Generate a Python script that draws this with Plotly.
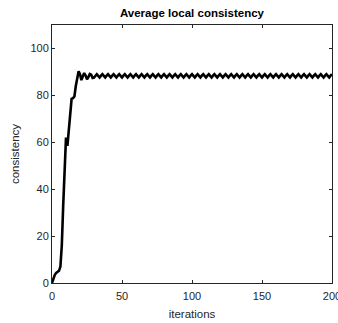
import plotly.graph_objects as go

# Average local consistency per iteration (first 31 iterations: warm-up phase)
warmup = [
    0.0, 2.0, 3.5, 4.3, 4.8, 5.2, 7.0, 16.0, 33.0, 50.0,
    62.0, 58.5, 65.0, 72.0, 78.5, 78.8, 79.5, 84.0, 88.0, 90.3,
    89.0, 86.5, 88.0, 89.5, 88.5, 86.8, 87.8, 89.1, 88.8, 87.4,
    87.6,
]

# Iterations 31..200: steady oscillating regime
steady = [
    88.4, 89.0, 88.3, 87.6, 88.4, 89.0, 88.3, 87.6,
    88.4, 89.0, 88.3, 87.6, 88.4, 89.0, 88.3, 87.6,
    88.4, 89.0, 88.3, 87.6, 88.4, 89.0, 88.3, 87.6,
    88.4, 89.0, 88.3, 87.6, 88.4, 89.0, 88.3, 87.6,
    88.4, 89.0, 88.3, 87.6, 88.4, 89.0, 88.3, 87.6,
    88.4, 89.0, 88.3, 87.6, 88.4, 89.0, 88.3, 87.6,
    88.4, 89.0, 88.3, 87.6, 88.4, 89.0, 88.3, 87.6,
    88.4, 89.0, 88.3, 87.6, 88.4, 89.0, 88.3, 87.6,
    88.4, 89.0, 88.3, 87.6, 88.4, 89.0, 88.3, 87.6,
    88.4, 89.0, 88.3, 87.6, 88.4, 89.0, 88.3, 87.6,
    88.4, 89.0, 88.3, 87.6, 88.4, 89.0, 88.3, 87.6,
    88.4, 89.0, 88.3, 87.6, 88.4, 89.0, 88.3, 87.6,
    88.4, 89.0, 88.3, 87.6, 88.4, 89.0, 88.3, 87.6,
    88.4, 89.0, 88.3, 87.6, 88.4, 89.0, 88.3, 87.6,
    88.4, 89.0, 88.3, 87.6, 88.4, 89.0, 88.3, 87.6,
    88.4, 89.0, 88.3, 87.6, 88.4, 89.0, 88.3, 87.6,
    88.4, 89.0, 88.3, 87.6, 88.4, 89.0, 88.3, 87.6,
    88.4, 89.0, 88.3, 87.6, 88.4, 89.0, 88.3, 87.6,
    88.4, 89.0, 88.3, 87.6, 88.4, 89.0, 88.3, 87.6,
    88.4, 89.0, 88.3, 87.6, 88.4, 89.0, 88.3, 87.6,
    88.4, 89.0, 88.3, 87.6, 88.4, 89.0, 88.3, 87.6,
    88.4, 89.0,
]

consistency = warmup + steady
iterations = list(range(len(consistency)))

x_ticks = [0, 50, 100, 150, 200]
y_ticks = [0, 20, 40, 60, 80, 100]

axis_color = "#262626"
font_family = "Liberation Sans, Arial, sans-serif"

fig = go.Figure(
    go.Scatter(
        x=iterations,
        y=consistency,
        mode="lines",
        line=dict(color="black", width=2.6),
        hoverinfo="skip",
    )
)

common_axis = dict(
    showline=True,
    linecolor=axis_color,
    linewidth=1,
    mirror="ticks",
    ticks="inside",
    ticklen=3,
    tickcolor=axis_color,
    showgrid=False,
    zeroline=False,
    automargin=False,
    ticklabeloverflow="allow",
    tickfont=dict(family=font_family, size=11, color=axis_color),
)

fig.update_layout(
    width=338,
    height=323,
    margin=dict(l=52, r=6, t=25, b=40),
    paper_bgcolor="white",
    plot_bgcolor="white",
    showlegend=False,
    title=dict(
        text="<b>Average local consistency</b>",
        x=0.568,
        xanchor="center",
        y=0.96,
        yanchor="middle",
        font=dict(family=font_family, size=11.5, color="black"),
    ),
    xaxis=dict(
        range=[0, 200],
        tickvals=x_ticks,
        ticklabelstandoff=3,
        title=dict(
            text="iterations",
            font=dict(family=font_family, size=11.5, color=axis_color),
            standoff=8,
        ),
        **common_axis,
    ),
    yaxis=dict(
        range=[0, 110],
        tickvals=y_ticks,
        title=dict(
            text="consistency",
            font=dict(family=font_family, size=11.5, color=axis_color),
            standoff=8,
        ),
        **common_axis,
    ),
)

fig.write_html("out.html")
